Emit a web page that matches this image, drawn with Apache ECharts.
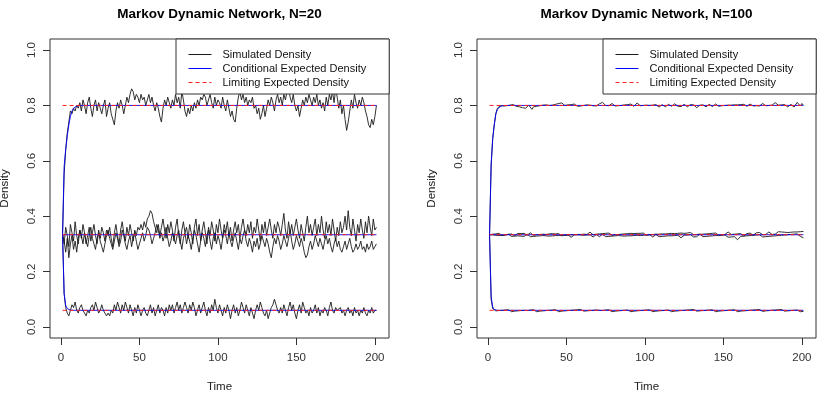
<!DOCTYPE html>
<html>
<head>
<meta charset="utf-8">
<script src="https://cdn.jsdelivr.net/npm/echarts@6/dist/echarts.min.js"></script>
<style>
  html, body { margin: 0; background: #fff; }
  #chart { width: 824px; height: 396px; }
</style>
</head>
<body>
<div id="chart"></div>
<script>
// simulated densities, one value per time step 1..201
const simTop20 = [
  0.333, 0.55, 0.64, 0.70, 0.74, 0.78, 0.77, 0.79, 0.78, 0.80,
  0.79, 0.81, 0.78, 0.82, 0.80, 0.77, 0.81, 0.83, 0.79, 0.76,
  0.80, 0.82, 0.78, 0.81, 0.79, 0.77, 0.80, 0.82, 0.76, 0.79,
  0.81, 0.77, 0.75, 0.73, 0.78, 0.81, 0.79, 0.82, 0.80, 0.77,
  0.80, 0.83, 0.81, 0.84, 0.86, 0.85, 0.82, 0.84, 0.83, 0.81,
  0.84, 0.82, 0.83, 0.80, 0.82, 0.84, 0.81, 0.83, 0.80, 0.78,
  0.81, 0.79, 0.76, 0.74, 0.79, 0.82, 0.80, 0.83, 0.81, 0.79,
  0.82, 0.80, 0.84, 0.81, 0.83, 0.79, 0.85, 0.82, 0.78, 0.76,
  0.79, 0.77, 0.80, 0.78, 0.81, 0.79, 0.82, 0.80, 0.83, 0.82,
  0.84, 0.83, 0.80, 0.82, 0.84, 0.81, 0.79, 0.83, 0.80, 0.82,
  0.81, 0.79, 0.83, 0.80, 0.78, 0.82, 0.79, 0.76, 0.78, 0.75,
  0.74, 0.79, 0.83, 0.85, 0.82, 0.84, 0.81, 0.83, 0.80, 0.82,
  0.81, 0.83, 0.79, 0.80, 0.77, 0.79, 0.75, 0.77, 0.80, 0.76,
  0.79, 0.82, 0.80, 0.83, 0.81, 0.78, 0.82, 0.84, 0.81, 0.83,
  0.80, 0.84, 0.82, 0.85, 0.86, 0.83, 0.81, 0.84, 0.80, 0.78,
  0.80, 0.76, 0.79, 0.82, 0.80, 0.83, 0.81, 0.84, 0.82, 0.80,
  0.83, 0.81, 0.84, 0.80, 0.82, 0.79, 0.81, 0.78, 0.83, 0.80,
  0.84, 0.82, 0.85, 0.81, 0.86, 0.83, 0.79, 0.82, 0.77, 0.80,
  0.75, 0.71, 0.74, 0.78, 0.82, 0.79, 0.84, 0.81, 0.79, 0.82,
  0.80, 0.83, 0.81, 0.78, 0.76, 0.73, 0.72, 0.75, 0.73, 0.76, 0.80
];
const simMidA20 = [
  0.333, 0.30, 0.36, 0.33, 0.29, 0.37, 0.34, 0.31, 0.38, 0.33,
  0.30, 0.35, 0.32, 0.37, 0.34, 0.30, 0.33, 0.36, 0.31, 0.34,
  0.37, 0.33, 0.30, 0.35, 0.32, 0.36, 0.34, 0.31, 0.35, 0.33,
  0.36, 0.32, 0.29, 0.34, 0.37, 0.33, 0.30, 0.35, 0.38, 0.34,
  0.31, 0.36, 0.33, 0.37, 0.34, 0.31, 0.35, 0.33, 0.36, 0.35,
  0.37, 0.35, 0.38, 0.36, 0.39, 0.40, 0.42, 0.41, 0.38, 0.36,
  0.34, 0.37, 0.33, 0.36, 0.39, 0.35, 0.32, 0.37, 0.34, 0.38,
  0.35, 0.31, 0.36, 0.39, 0.33, 0.30, 0.35, 0.38, 0.34, 0.36,
  0.32, 0.37, 0.34, 0.30, 0.36, 0.39, 0.33, 0.37, 0.31, 0.35,
  0.38, 0.34, 0.30, 0.36, 0.33, 0.38, 0.35, 0.31, 0.37, 0.34,
  0.39, 0.35, 0.32, 0.37, 0.34, 0.38, 0.33, 0.36, 0.31, 0.35,
  0.38, 0.34, 0.37, 0.32, 0.36, 0.39, 0.35, 0.33, 0.37, 0.34,
  0.38, 0.32, 0.36, 0.34, 0.39, 0.35, 0.31, 0.37, 0.34, 0.38,
  0.33, 0.36, 0.39, 0.35, 0.32, 0.37, 0.34, 0.38, 0.36, 0.33,
  0.37, 0.41, 0.35, 0.32, 0.38, 0.34, 0.37, 0.33, 0.36, 0.39,
  0.35, 0.32, 0.37, 0.34, 0.31, 0.36, 0.40, 0.34, 0.37, 0.33,
  0.36, 0.39, 0.33, 0.37, 0.34, 0.40, 0.35, 0.32, 0.38, 0.34,
  0.37, 0.33, 0.39, 0.35, 0.31, 0.36, 0.33, 0.38, 0.34, 0.36,
  0.40, 0.35, 0.42, 0.36, 0.33, 0.39, 0.35, 0.31, 0.37, 0.34,
  0.39, 0.35, 0.32, 0.38, 0.34, 0.40, 0.36, 0.33, 0.39, 0.35, 0.36
];
const simMidB20 = [
  0.333, 0.31, 0.27, 0.32, 0.25, 0.30, 0.33, 0.28, 0.31, 0.27,
  0.32, 0.35, 0.33, 0.30, 0.34, 0.31, 0.29, 0.33, 0.36, 0.32,
  0.30, 0.28, 0.32, 0.34, 0.31, 0.29, 0.27, 0.30, 0.33, 0.35,
  0.32, 0.30, 0.28, 0.31, 0.34, 0.32, 0.29, 0.31, 0.35, 0.33,
  0.30, 0.28, 0.31, 0.33, 0.29, 0.32, 0.34, 0.31, 0.28, 0.30,
  0.32, 0.34, 0.31, 0.33, 0.36, 0.35, 0.33, 0.30, 0.32, 0.34,
  0.37, 0.35, 0.32, 0.34, 0.31, 0.33, 0.36, 0.32, 0.29, 0.31,
  0.34, 0.32, 0.30, 0.33, 0.35, 0.31, 0.28, 0.32, 0.34, 0.30,
  0.33, 0.31, 0.28, 0.32, 0.35, 0.33, 0.30, 0.27, 0.31, 0.34,
  0.32, 0.29, 0.33, 0.35, 0.31, 0.28, 0.32, 0.34, 0.30, 0.33,
  0.31, 0.28, 0.32, 0.35, 0.33, 0.30, 0.34, 0.31, 0.29, 0.32,
  0.34, 0.31, 0.28, 0.32, 0.30, 0.33, 0.35, 0.31, 0.29, 0.32,
  0.30, 0.27, 0.31, 0.29, 0.32, 0.28, 0.30, 0.33, 0.31, 0.29,
  0.32, 0.30, 0.27, 0.25, 0.29, 0.32, 0.30, 0.33, 0.31, 0.28,
  0.30, 0.33, 0.31, 0.29, 0.32, 0.35, 0.31, 0.28, 0.30, 0.33,
  0.31, 0.29, 0.32, 0.30, 0.27, 0.25, 0.26, 0.29, 0.31, 0.28,
  0.30, 0.33, 0.31, 0.29, 0.32, 0.30, 0.28, 0.31, 0.33, 0.30,
  0.32, 0.29, 0.27, 0.30, 0.32, 0.29, 0.31, 0.28, 0.27, 0.29,
  0.31, 0.28, 0.30, 0.32, 0.29, 0.27, 0.28, 0.30, 0.28, 0.29,
  0.31, 0.28, 0.29, 0.27, 0.30, 0.28, 0.29, 0.31, 0.28, 0.29, 0.30
];
const simLow20 = [
  0.333, 0.12, 0.07, 0.05, 0.04, 0.06, 0.08, 0.07, 0.09, 0.06,
  0.05, 0.07, 0.08, 0.06, 0.05, 0.04, 0.06, 0.05, 0.07, 0.08,
  0.06, 0.09, 0.07, 0.05, 0.06, 0.08, 0.06, 0.05, 0.04, 0.05,
  0.04, 0.06, 0.05, 0.08, 0.06, 0.09, 0.07, 0.05, 0.08, 0.06,
  0.09, 0.07, 0.05, 0.08, 0.06, 0.04, 0.07, 0.05, 0.08, 0.06,
  0.04, 0.06, 0.07, 0.05, 0.04, 0.06, 0.08, 0.05, 0.07, 0.04,
  0.06, 0.08, 0.05, 0.07, 0.06, 0.04, 0.07, 0.05, 0.08, 0.06,
  0.08, 0.05, 0.07, 0.09, 0.06, 0.08, 0.05, 0.07, 0.09, 0.07,
  0.05, 0.08, 0.06, 0.09, 0.07, 0.04, 0.06, 0.08, 0.05, 0.07,
  0.09, 0.06, 0.04, 0.07, 0.05, 0.08, 0.06, 0.10, 0.07, 0.05,
  0.08, 0.06, 0.04, 0.07, 0.05, 0.08, 0.06, 0.03, 0.06, 0.08,
  0.05, 0.07, 0.04, 0.06, 0.09, 0.07, 0.05, 0.08, 0.06, 0.04,
  0.07, 0.05, 0.03, 0.06, 0.08, 0.06, 0.09, 0.07, 0.05, 0.04,
  0.06, 0.03, 0.05, 0.07, 0.08, 0.10, 0.08, 0.06, 0.05, 0.07,
  0.05, 0.08, 0.06, 0.04, 0.07, 0.09, 0.06, 0.08, 0.05, 0.03,
  0.06, 0.08, 0.05, 0.09, 0.07, 0.05, 0.06, 0.04, 0.07, 0.05,
  0.06, 0.08, 0.05, 0.07, 0.04, 0.06, 0.05, 0.07, 0.06, 0.04,
  0.07, 0.09, 0.06, 0.05, 0.07, 0.06, 0.06, 0.07, 0.05, 0.06,
  0.04, 0.06, 0.07, 0.05, 0.06, 0.04, 0.07, 0.05, 0.06, 0.04,
  0.06, 0.05, 0.07, 0.05, 0.04, 0.06, 0.05, 0.07, 0.05, 0.06, 0.06
];
const simTop100 = [
  0.333, 0.58, 0.68, 0.73, 0.77, 0.79, 0.796, 0.800, 0.802, 0.798,
  0.803, 0.799, 0.805, 0.801, 0.807, 0.803, 0.800, 0.797, 0.801, 0.795,
  0.799, 0.792, 0.797, 0.790, 0.796, 0.801, 0.794, 0.786, 0.795, 0.800,
  0.797, 0.803, 0.799, 0.805, 0.801, 0.797, 0.802, 0.806, 0.800, 0.796,
  0.801, 0.798, 0.804, 0.800, 0.807, 0.803, 0.809, 0.804, 0.800, 0.806,
  0.802, 0.798, 0.803, 0.799, 0.805, 0.801, 0.797, 0.802, 0.798, 0.804,
  0.800, 0.806, 0.802, 0.797, 0.801, 0.795, 0.799, 0.803, 0.798, 0.802,
  0.806, 0.801, 0.811, 0.805, 0.800, 0.804, 0.799, 0.803, 0.807, 0.802,
  0.798, 0.803, 0.799, 0.795, 0.800, 0.797, 0.802, 0.798, 0.803, 0.800,
  0.805, 0.801, 0.797, 0.802, 0.809, 0.804, 0.799, 0.805, 0.800, 0.796,
  0.801, 0.805, 0.800, 0.796, 0.801, 0.798, 0.803, 0.799, 0.794, 0.799,
  0.803, 0.799, 0.795, 0.800, 0.804, 0.800, 0.797, 0.802, 0.806, 0.801,
  0.797, 0.801, 0.796, 0.800, 0.804, 0.800, 0.795, 0.799, 0.803, 0.798,
  0.802, 0.797, 0.792, 0.797, 0.801, 0.797, 0.802, 0.799, 0.795, 0.800,
  0.804, 0.800, 0.796, 0.801, 0.805, 0.801, 0.797, 0.802, 0.799, 0.804,
  0.800, 0.796, 0.801, 0.805, 0.801, 0.797, 0.802, 0.798, 0.802, 0.799,
  0.803, 0.799, 0.804, 0.800, 0.797, 0.801, 0.805, 0.801, 0.798, 0.802,
  0.799, 0.803, 0.798, 0.802, 0.807, 0.803, 0.799, 0.804, 0.800, 0.796,
  0.801, 0.806, 0.810, 0.805, 0.801, 0.806, 0.802, 0.798, 0.803, 0.799,
  0.795, 0.800, 0.804, 0.799, 0.794, 0.800, 0.811, 0.805, 0.798, 0.807, 0.801
];
const simMidA100 = [
  0.333, 0.338, 0.335, 0.341, 0.336, 0.333, 0.338, 0.334, 0.330, 0.336,
  0.332, 0.328, 0.334, 0.330, 0.336, 0.332, 0.329, 0.334, 0.338, 0.333,
  0.337, 0.333, 0.338, 0.335, 0.331, 0.336, 0.340, 0.335, 0.331, 0.336,
  0.333, 0.338, 0.334, 0.330, 0.335, 0.339, 0.334, 0.330, 0.336, 0.332,
  0.337, 0.341, 0.336, 0.332, 0.337, 0.333, 0.329, 0.334, 0.331, 0.335,
  0.332, 0.328, 0.333, 0.337, 0.333, 0.329, 0.334, 0.338, 0.334, 0.330,
  0.335, 0.339, 0.334, 0.338, 0.342, 0.337, 0.333, 0.338, 0.335, 0.340,
  0.336, 0.341, 0.337, 0.343, 0.338, 0.334, 0.339, 0.335, 0.331, 0.336,
  0.333, 0.337, 0.334, 0.338, 0.335, 0.339, 0.336, 0.332, 0.337, 0.334,
  0.338, 0.342, 0.337, 0.333, 0.338, 0.343, 0.338, 0.334, 0.339, 0.335,
  0.331, 0.336, 0.333, 0.338, 0.334, 0.330, 0.335, 0.339, 0.335, 0.331,
  0.336, 0.340, 0.336, 0.332, 0.337, 0.333, 0.338, 0.342, 0.337, 0.333,
  0.338, 0.334, 0.339, 0.343, 0.338, 0.334, 0.339, 0.336, 0.341, 0.337,
  0.333, 0.338, 0.334, 0.330, 0.335, 0.339, 0.335, 0.331, 0.336, 0.332,
  0.337, 0.333, 0.338, 0.334, 0.339, 0.335, 0.331, 0.336, 0.333, 0.338,
  0.334, 0.339, 0.343, 0.338, 0.334, 0.338, 0.335, 0.340, 0.336, 0.332,
  0.337, 0.333, 0.328, 0.333, 0.337, 0.334, 0.339, 0.335, 0.331, 0.336,
  0.340, 0.336, 0.341, 0.337, 0.333, 0.338, 0.334, 0.339, 0.343, 0.338,
  0.334, 0.339, 0.335, 0.340, 0.344, 0.339, 0.343, 0.347, 0.342, 0.345,
  0.341, 0.346, 0.342, 0.338, 0.343, 0.347, 0.343, 0.339, 0.344, 0.340, 0.345
];
const simMidB100 = [
  0.333, 0.329, 0.333, 0.327, 0.331, 0.335, 0.330, 0.326, 0.331, 0.328,
  0.333, 0.330, 0.335, 0.331, 0.327, 0.332, 0.328, 0.324, 0.329, 0.333,
  0.328, 0.332, 0.327, 0.331, 0.335, 0.330, 0.326, 0.331, 0.327, 0.332,
  0.328, 0.333, 0.329, 0.325, 0.330, 0.334, 0.329, 0.333, 0.328, 0.332,
  0.329, 0.325, 0.330, 0.334, 0.330, 0.326, 0.331, 0.335, 0.331, 0.327,
  0.332, 0.328, 0.324, 0.329, 0.333, 0.329, 0.333, 0.328, 0.332, 0.336,
  0.331, 0.327, 0.332, 0.328, 0.333, 0.329, 0.325, 0.330, 0.334, 0.330,
  0.326, 0.331, 0.335, 0.330, 0.326, 0.331, 0.327, 0.332, 0.328, 0.333,
  0.329, 0.325, 0.330, 0.334, 0.329, 0.333, 0.328, 0.324, 0.329, 0.333,
  0.329, 0.325, 0.330, 0.326, 0.331, 0.335, 0.330, 0.326, 0.331, 0.327,
  0.332, 0.328, 0.333, 0.329, 0.325, 0.330, 0.334, 0.330, 0.326, 0.331,
  0.327, 0.332, 0.328, 0.324, 0.329, 0.333, 0.329, 0.334, 0.330, 0.326,
  0.331, 0.327, 0.322, 0.327, 0.331, 0.327, 0.332, 0.328, 0.333, 0.329,
  0.325, 0.330, 0.326, 0.331, 0.335, 0.330, 0.326, 0.331, 0.327, 0.332,
  0.328, 0.333, 0.329, 0.325, 0.330, 0.334, 0.330, 0.326, 0.331, 0.327,
  0.332, 0.328, 0.324, 0.329, 0.325, 0.330, 0.326, 0.321, 0.315, 0.322,
  0.327, 0.323, 0.328, 0.324, 0.329, 0.325, 0.330, 0.326, 0.331, 0.327,
  0.332, 0.328, 0.333, 0.329, 0.325, 0.330, 0.326, 0.331, 0.327, 0.332,
  0.328, 0.333, 0.329, 0.334, 0.330, 0.335, 0.331, 0.336, 0.332, 0.337,
  0.333, 0.338, 0.334, 0.339, 0.335, 0.340, 0.336, 0.331, 0.327, 0.324, 0.322
];
const simLow100 = [
  0.333, 0.100, 0.066, 0.061, 0.058, 0.062, 0.059, 0.056, 0.060, 0.057,
  0.061, 0.058, 0.062, 0.059, 0.055, 0.060, 0.057, 0.061, 0.058, 0.062,
  0.059, 0.056, 0.060, 0.063, 0.059, 0.056, 0.061, 0.058, 0.062, 0.059,
  0.055, 0.060, 0.057, 0.061, 0.058, 0.062, 0.059, 0.063, 0.060, 0.056,
  0.061, 0.058, 0.062, 0.059, 0.055, 0.060, 0.057, 0.061, 0.058, 0.062,
  0.059, 0.063, 0.060, 0.056, 0.061, 0.058, 0.062, 0.059, 0.063, 0.060,
  0.057, 0.061, 0.058, 0.062, 0.059, 0.055, 0.060, 0.057, 0.061, 0.064,
  0.060, 0.063, 0.059, 0.056, 0.061, 0.058, 0.062, 0.059, 0.055, 0.060,
  0.057, 0.061, 0.058, 0.062, 0.059, 0.056, 0.060, 0.057, 0.061, 0.058,
  0.055, 0.060, 0.057, 0.061, 0.058, 0.054, 0.059, 0.056, 0.060, 0.057,
  0.061, 0.058, 0.062, 0.059, 0.055, 0.060, 0.057, 0.061, 0.058, 0.062,
  0.059, 0.056, 0.060, 0.057, 0.061, 0.058, 0.055, 0.060, 0.057, 0.061,
  0.058, 0.062, 0.059, 0.063, 0.060, 0.064, 0.061, 0.065, 0.062, 0.059,
  0.063, 0.060, 0.057, 0.061, 0.058, 0.062, 0.059, 0.056, 0.060, 0.057,
  0.061, 0.058, 0.062, 0.059, 0.055, 0.060, 0.057, 0.061, 0.058, 0.062,
  0.059, 0.056, 0.060, 0.057, 0.061, 0.058, 0.062, 0.059, 0.055, 0.060,
  0.057, 0.061, 0.058, 0.062, 0.059, 0.056, 0.060, 0.057, 0.061, 0.058,
  0.062, 0.059, 0.063, 0.060, 0.056, 0.061, 0.058, 0.062, 0.059, 0.056,
  0.060, 0.057, 0.061, 0.058, 0.062, 0.059, 0.063, 0.060, 0.057, 0.061,
  0.058, 0.062, 0.059, 0.056, 0.060, 0.057, 0.061, 0.058, 0.055, 0.057, 0.056
];

// conditional expected density: only changes over the first few steps, flat after
const expTime = [1, 2, 3, 4, 5, 6, 7, 8, 9, 10, 12, 15, 201];
const condUp20  = [0.333, 0.58, 0.64, 0.69, 0.73, 0.76, 0.78, 0.79, 0.795, 0.798, 0.8, 0.8, 0.8];
const condMid20 = [0.333, 0.333, 0.333, 0.333, 0.333, 0.333, 0.333, 0.333, 0.333, 0.333, 0.333, 0.333, 0.333];
const condLow20 = [0.333, 0.12, 0.078, 0.066, 0.062, 0.061, 0.06, 0.06, 0.06, 0.06, 0.06, 0.06, 0.06];
const condUp100  = [0.333, 0.59, 0.68, 0.73, 0.77, 0.785, 0.793, 0.797, 0.799, 0.8, 0.8, 0.8, 0.8];
const condMid100 = [0.333, 0.333, 0.333, 0.333, 0.333, 0.333, 0.333, 0.333, 0.333, 0.333, 0.333, 0.333, 0.333];
const condLow100 = [0.333, 0.11, 0.072, 0.063, 0.061, 0.06, 0.06, 0.06, 0.06, 0.06, 0.06, 0.06, 0.06];

// limiting expected density
const limitTime = [1, 201];
const limitLevels = [0.8, 0.333, 0.06];

const xTicks = [0, 50, 100, 150, 200];
const yTicks = [0, 0.2, 0.4, 0.6, 0.8, 1.0];
const titles = ['Markov Dynamic Network, N=20', 'Markov Dynamic Network, N=100'];
const names = ['Simulated Density', 'Conditional Expected Density', 'Limiting Expected Density'];

const FONT = '"Liberation Sans", Arial, sans-serif';
const panels = [{ left: 50 }, { left: 477 }];
const PW = 339, PH = 299, PT = 39;

const chart = echarts.init(document.getElementById('chart'), null, { renderer: 'canvas' });

function seq(vals) {
  return vals.map((v, i) => [i + 1, v]);
}
function pairs(times, vals) {
  return times.map((t, i) => [t, vals[i]]);
}
function line(name, idx, data, color, dashed) {
  return {
    name,
    type: 'line',
    xAxisIndex: idx,
    yAxisIndex: idx,
    data,
    symbol: 'none',
    silent: true,
    lineStyle: { color, width: dashed ? 1 : 0.9, type: dashed ? [4, 3] : 'solid' },
    itemStyle: { color },
  };
}

const series = [];
const sims = [[simTop20, simMidA20, simMidB20, simLow20], [simTop100, simMidA100, simMidB100, simLow100]];
const conds = [[condUp20, condMid20, condLow20], [condUp100, condMid100, condLow100]];
[0, 1].forEach((p) => {
  sims[p].forEach((s) => series.push(line(names[0], p, seq(s), '#1a1a1a', false)));
  conds[p].forEach((c) => series.push(line(names[1], p, pairs(expTime, c), '#0000ff', false)));
  limitLevels.forEach((l) => series.push(line(names[2], p, pairs(limitTime, [l, l]), '#ff2020', true)));
});

chart.setOption({
  animation: false,
  backgroundColor: '#fff',
  textStyle: { fontFamily: FONT },
  title: panels.map((g, i) => ({
    text: titles[i],
    left: g.left + PW / 2,
    top: 7,
    padding: 0,
    textAlign: 'center',
    textStyle: { fontSize: 13.5, fontWeight: 'bold', color: '#000', fontFamily: FONT },
  })),
  legend: panels.map((g) => ({
    data: names,
    orient: 'vertical',
    left: g.left + PW - 213,
    top: PT,
    padding: [10, 23, 6, 12],
    itemWidth: 23,
    itemHeight: 12,
    itemGap: 3,
    selectedMode: false,
    backgroundColor: '#fff',
    borderColor: '#333',
    borderWidth: 1,
    borderRadius: 0,
    itemStyle: { color: 'transparent', borderWidth: 0, opacity: 0 },
    lineStyle: { width: 1 },
    textStyle: { fontSize: 11, color: '#111', fontFamily: FONT, padding: [0, 0, 0, 6] },
  })),
  grid: panels.map((g) => ({
    left: g.left, top: PT, width: PW, height: PH,
    show: true, borderColor: '#333', borderWidth: 1, backgroundColor: 'transparent',
    outerBoundsMode: 'none',
  })),
  xAxis: panels.map((g, i) => ({
    gridIndex: i,
    type: 'value',
    min: -7,
    max: 209,
    name: 'Time',
    nameLocation: 'middle',
    nameGap: 43,
    nameTextStyle: { fontSize: 11.5, color: '#222', fontFamily: FONT },
    axisLine: { show: false, onZero: false },
    splitLine: { show: false },
    axisTick: { show: true, length: 7, customValues: xTicks, lineStyle: { color: '#333' } },
    axisLabel: { customValues: xTicks, margin: 14, fontSize: 11.5, color: '#333', fontFamily: FONT },
  })),
  yAxis: panels.map((g, i) => ({
    gridIndex: i,
    type: 'value',
    min: -0.04,
    max: 1.04,
    name: 'Density',
    nameLocation: 'middle',
    nameGap: 39,
    nameTextStyle: { fontSize: 11.5, color: '#222', fontFamily: FONT },
    axisLine: { show: false, onZero: false },
    splitLine: { show: false },
    axisTick: { show: true, length: 7, customValues: yTicks, lineStyle: { color: '#333' } },
    axisLabel: {
      customValues: yTicks, rotate: 90, margin: 12, fontSize: 11.5, color: '#333', fontFamily: FONT,
      formatter: (v) => v.toFixed(1),
    },
  })),
  series,
});
</script>
</body>
</html>
